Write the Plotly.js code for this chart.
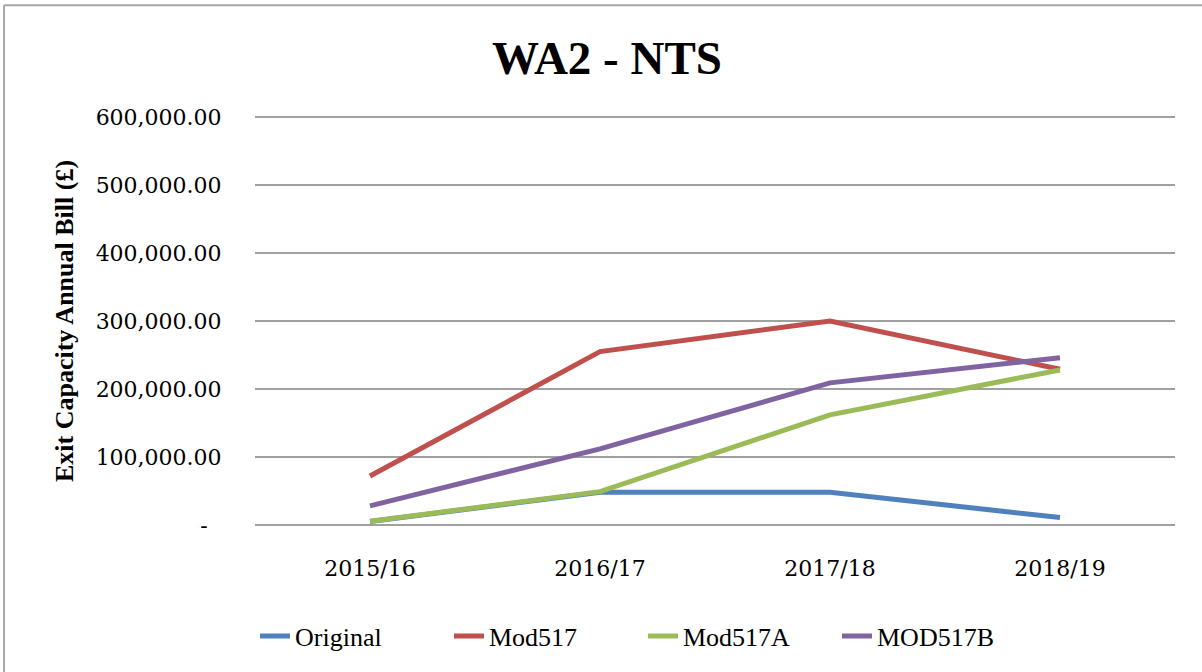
<!DOCTYPE html>
<html>
<head>
<meta charset="utf-8">
<script src="https://cdn.plot.ly/plotly-3.0.1.min.js"></script>
<style>html,body{margin:0;padding:0;background:#fff;}#chart{width:1202px;height:672px;}</style>
</head>
<body>
<div id="chart"></div>
<script>
var categories = ["2015/16", "2016/17", "2017/18", "2018/19"];
var original = [5000, 48000, 48000, 11000];
var mod517 = [72000, 255000, 300000, 229000];
var mod517A = [5500, 49000, 162000, 228000];
var mod517B = [28000, 112000, 209000, 246000];
var yTickVals = [0, 100000, 200000, 300000, 400000, 500000, 600000];
var yTickText = ["-\u00a0\u00a0", "100,000.00", "200,000.00", "300,000.00", "400,000.00", "500,000.00", "600,000.00"];

function series(name, vals, color) {
  return {
    type: 'scatter', mode: 'lines', name: name,
    x: categories, y: vals,
    line: {color: color, width: 5},
    hoverinfo: 'skip'
  };
}

var data = [
  series('Original', original, '#4F81BD'),
  series('Mod517', mod517, '#C0504D'),
  series('Mod517A', mod517A, '#9BBB59'),
  series('MOD517B', mod517B, '#8064A2')
];

var layout = {
  width: 1202, height: 672,
  margin: {l: 255, r: 27, t: 116, b: 146, autoexpand: false},
  paper_bgcolor: '#ffffff', plot_bgcolor: '#ffffff',
  showlegend: true,
  title: {
    text: '<b>WA2 - NTS</b>',
    font: {family: 'Liberation Serif', size: 47, color: '#000'},
    x: 0.505, xref: 'container', xanchor: 'center',
    y: 0.914, yref: 'container', yanchor: 'middle'
  },
  xaxis: {
    type: 'category', range: [-0.5, 3.5],
    showgrid: false, zeroline: false, showline: false,
    ticks: 'outside', ticklen: 23, tickcolor: 'rgba(0,0,0,0)',
    tickfont: {family: 'DejaVu Serif', size: 22, color: '#000'},
    fixedrange: true
  },
  yaxis: {
    range: [-1500, 601500],
    tickvals: yTickVals, ticktext: yTickText,
    showgrid: true, gridcolor: '#A0A0A0', gridwidth: 2,
    zeroline: false, showline: false,
    ticks: 'outside', ticklen: 28, tickcolor: 'rgba(0,0,0,0)',
    tickfont: {family: 'DejaVu Serif', size: 22, color: '#000'},
    title: {
      text: '<b>Exit Capacity Annual Bill (£)</b>',
      font: {family: 'Liberation Serif', size: 26, color: '#000'},
      standoff: 14
    },
    automargin: false,
    fixedrange: true
  },
  legend: {
    orientation: 'h',
    x: 0.0, xref: 'paper', xanchor: 'left',
    y: 0.0536, yref: 'container', yanchor: 'middle',
    font: {family: 'Liberation Serif', size: 26, color: '#000'},
    entrywidth: 149, entrywidthmode: 'pixels',
    bgcolor: 'rgba(0,0,0,0)'
  },
  shapes: [
    {type: 'line', xref: 'paper', yref: 'paper', x0: -0.2728, x1: 1.05, y0: 1.27, y1: 1.27, line: {color: '#A6A6A6', width: 2}},
    {type: 'line', xref: 'paper', yref: 'paper', x0: -0.2728, x1: -0.2728, y0: 1.27, y1: -0.4, line: {color: '#A6A6A6', width: 2}}
  ]
};

Plotly.newPlot('chart', data, layout, {displayModeBar: false, staticPlot: true});
</script>
</body>
</html>
